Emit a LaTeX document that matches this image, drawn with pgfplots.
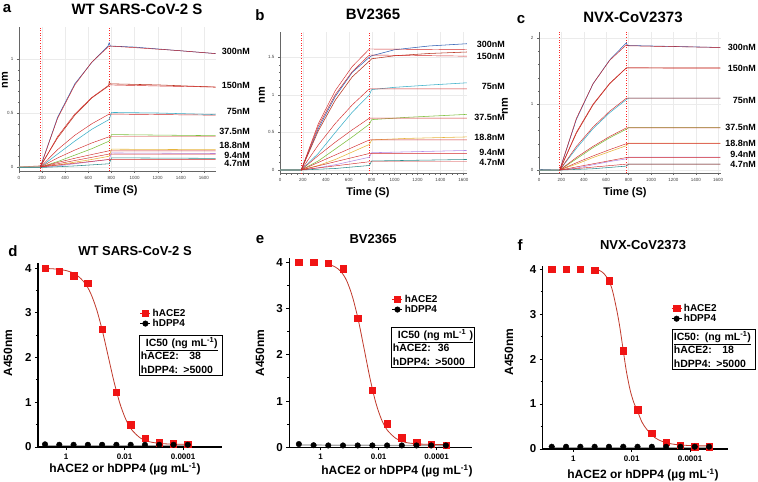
\documentclass[border=0pt]{standalone}
\usepackage{pgfplots}
\pgfplotsset{compat=1.18}
\usepackage{fontspec}
\setmainfont{Liberation Sans}
\definecolor{cblue}{HTML}{2F5FB3}
\definecolor{cdred}{HTML}{B8321E}
\definecolor{ccyan}{HTML}{3AAFC8}
\definecolor{cgreen}{HTML}{7DBE3C}
\definecolor{cyell}{HTML}{E6B43C}
\definecolor{cpurp}{HTML}{B48CE6}
\definecolor{cteal}{HTML}{2E8C8C}
\definecolor{fitred}{HTML}{D22A2A}
\definecolor{sqred}{HTML}{F01414}
\definecolor{curvered}{HTML}{C0392B}
\pgfplotsset{
 topax/.style={scale only axis, axis lines*=left, axis line style={black!60, line width=0.4pt},
   xmin=0, tick align=outside, major tick length=2pt, minor tick length=1.2pt,
   tick style={black!60, line width=0.3pt}, xtick={0,200,...,1600}, minor x tick num=3, minor y tick num=4,
   ticklabel style={font=\fontsize{4.5}{5}\selectfont, text=black!75},
   xmajorgrids, ymajorgrids, major grid style={black!8, line width=0.3pt},
   /pgf/number format/assume math mode=true, /pgf/number format/set thousands separator={},
   scaled y ticks=false, scaled x ticks=false,
   yticklabel style={/pgf/number format/fixed},
   every axis plot/.append style={line width=0.55pt}},
 fitline/.style={fitred, line width=0.45pt},
 vdash/.style={red!85, dotted, line width=0.6pt},
 botax/.style={scale only axis, axis lines*=left, axis line style={black, line width=1.3pt},
   tick style={black, line width=1pt}, tick align=outside, major tick length=3pt, minor tick length=2pt,
   ytick={0,1,2,3,4}, minor y tick num=1, ymin=0, xtick={0,2,4}, xticklabels={1,0.01,0.0001},
   yticklabel style={font=\bfseries\fontsize{11.5}{12}\selectfont},
   xticklabel style={font=\bfseries\fontsize{8}{9}\selectfont},
   /pgf/number format/assume math mode=true, clip=false,
   legend cell align=left,
   legend image code/.code={\draw[##1, mark=none, line width=0.6pt] (0pt,0pt) -- (10pt,0pt); \draw[##1, only marks] plot coordinates {(5pt,0pt)};}},
 sq/.style={only marks, mark=square*, mark size=3.2pt, color=sqred},
 dot/.style={only marks, mark=*, mark size=2.8pt, color=black},
 sig/.style={curvered, line width=0.8pt, smooth, tension=0.5},
}
\begin{document}
\begin{tikzpicture}[x=1pt,y=1pt]
\useasboundingbox (0pt,0pt) rectangle (758pt,-482pt);
% ---------------- panel a
\begin{axis}[topax, at={(19pt,-171pt)}, anchor=south west, width=197pt, height=144pt,
  xmax=1704, ymin=-0.037, ymax=1.296, ytick={0,0.5,1}]
\addplot[vdash] coordinates {(185,-0.037)(185,1.296)};
\addplot[vdash] coordinates {(780,-0.037)(780,1.296)};
% data
\addplot[cblue] coordinates {(0,-0.005)(185,0)(334,0.46)(483,0.77)(631,0.97)(770,1.12)(780,1.15)(790,1.12)(1000,1.11)(1350,1.08)(1700,1.05)};
\addplot[cdred] coordinates {(0,0)(185,0.01)(334,0.27)(483,0.48)(631,0.64)(775,0.75)(780,0.79)(790,0.77)(1200,0.76)(1700,0.74)};
\addplot[ccyan] coordinates {(0,-0.005)(185,0)(334,0.12)(483,0.24)(631,0.35)(780,0.44)(800,0.505)(1200,0.50)(1700,0.485)};
\addplot[cgreen] coordinates {(0,0)(185,0)(334,0.05)(483,0.11)(631,0.17)(780,0.24)(800,0.30)(1700,0.29)};
\addplot[cyell] coordinates {(0,0)(185,0)(334,0.02)(483,0.045)(631,0.07)(780,0.10)(800,0.165)(1700,0.16)};
\addplot[cpurp] coordinates {(0,0)(185,0)(334,0.01)(483,0.03)(631,0.05)(780,0.07)(800,0.13)(1700,0.125)};
\addplot[cteal] coordinates {(0,-0.005)(185,-0.005)(483,0.01)(780,0.03)(800,0.085)(1700,0.08)};
% fits
\addplot[fitline] coordinates {(185,0)(334,0.451)(483,0.760)(631,0.973)(780,1.12)(1000,1.105)(1350,1.08)(1700,1.05)};
\addplot[fitline] coordinates {(185,0)(334,0.282)(483,0.491)(631,0.645)(780,0.76)(1200,0.75)(1700,0.74)};
\addplot[fitline] coordinates {(185,0)(334,0.161)(483,0.294)(631,0.401)(780,0.49)(1700,0.48)};
\addplot[fitline] coordinates {(185,0)(334,0.084)(483,0.157)(631,0.223)(780,0.28)(1700,0.28)};
\addplot[fitline] coordinates {(185,0)(334,0.042)(483,0.081)(631,0.116)(780,0.15)(1700,0.15)};
\addplot[fitline] coordinates {(185,0)(780,0.12)(1700,0.12)};
\addplot[fitline] coordinates {(185,0)(780,0.07)(1700,0.07)};
\end{axis}
% ---------------- panel b
\begin{axis}[topax, at={(280pt,-173.3pt)}, anchor=south west, width=187pt, height=141.6pt,
  xmax=1632, ymin=-0.044, ymax=1.84, ytick={0,0.5,1,1.5}]
\addplot[vdash] coordinates {(185,-0.044)(185,1.84)};
\addplot[vdash] coordinates {(780,-0.044)(780,1.84)};
\addplot[cblue] coordinates {(0,0)(185,0)(334,0.55)(483,0.98)(631,1.30)(780,1.50)(800,1.52)(1000,1.60)(1300,1.65)(1630,1.68)};
\addplot[cdred] coordinates {(0,0)(185,0)(334,0.52)(483,0.93)(631,1.24)(780,1.45)(800,1.48)(1000,1.52)(1300,1.55)(1630,1.57)};
\addplot[ccyan] coordinates {(0,0)(185,0)(334,0.22)(483,0.50)(631,0.77)(780,1.00)(800,1.07)(1000,1.10)(1300,1.13)(1630,1.16)};
\addplot[cgreen] coordinates {(0,0)(185,0)(334,0.12)(483,0.28)(631,0.44)(780,0.61)(800,0.67)(1100,0.70)(1630,0.74)};
\addplot[cyell] coordinates {(0,0)(185,0)(334,0.06)(483,0.14)(631,0.24)(780,0.34)(800,0.40)(1100,0.42)(1630,0.44)};
\addplot[cpurp] coordinates {(0,0)(185,0)(334,0.03)(483,0.07)(631,0.12)(780,0.17)(800,0.23)(1630,0.26)};
\addplot[cteal] coordinates {(0,0)(185,0)(483,0.02)(780,0.06)(800,0.12)(1630,0.14)};
\addplot[fitline] coordinates {(185,0)(334,0.614)(483,1.058)(631,1.378)(780,1.61)(1630,1.60)};
\addplot[fitline] coordinates {(185,0)(334,0.583)(483,1.005)(631,1.31)(780,1.53)(1630,1.515)};
\addplot[fitline] coordinates {(185,0)(334,0.333)(483,0.620)(631,0.867)(780,1.08)(1630,1.08)};
\addplot[fitline] coordinates {(185,0)(334,0.192)(483,0.371)(631,0.535)(780,0.69)(1630,0.69)};
\addplot[fitline] coordinates {(185,0)(780,0.40)(1630,0.40)};
\addplot[fitline] coordinates {(185,0)(780,0.22)(1630,0.22)};
\addplot[fitline] coordinates {(185,0)(780,0.11)(1630,0.11)};
\end{axis}
% ---------------- panel c
\begin{axis}[topax, at={(539pt,-172.7pt)}, anchor=south west, width=182pt, height=140.4pt,
  xmax=1625, ymin=-0.04, ymax=2.09, ytick={0,1,2}]
\addplot[vdash] coordinates {(185,-0.04)(185,2.09)};
\addplot[vdash] coordinates {(780,-0.04)(780,2.09)};
\addplot[cblue] coordinates {(0,0.01)(185,0)(334,0.77)(483,1.31)(631,1.67)(780,1.93)(790,1.89)(1620,1.86)};
\addplot[cdred] coordinates {(0,0)(185,0)(334,0.56)(483,0.99)(631,1.31)(780,1.55)(1620,1.55)};
\addplot[ccyan] coordinates {(0,0)(185,0)(334,0.33)(483,0.63)(631,0.87)(780,1.07)(800,1.09)(1620,1.09)};
\addplot[cgreen] coordinates {(0,0)(185,0)(334,0.17)(483,0.34)(631,0.49)(780,0.62)(800,0.645)(1620,0.645)};
\addplot[cyell] coordinates {(0,0)(185,0)(334,0.09)(483,0.19)(631,0.28)(780,0.37)(800,0.41)(1620,0.41)};
\addplot[cpurp] coordinates {(0,0)(185,0)(334,0.03)(483,0.08)(631,0.13)(780,0.17)(800,0.195)(1620,0.195)};
\addplot[cteal] coordinates {(0,0)(185,0)(483,0.02)(780,0.06)(800,0.09)(1620,0.09)};
\addplot[fitline] coordinates {(185,0)(334,0.785)(483,1.311)(631,1.664)(780,1.90)(800,1.885)(1620,1.86)};
\addplot[fitline] coordinates {(185,0)(334,0.575)(483,1.001)(631,1.316)(780,1.55)(1620,1.545)};
\addplot[fitline] coordinates {(185,0)(334,0.359)(483,0.653)(631,0.893)(780,1.09)(1620,1.09)};
\addplot[fitline] coordinates {(185,0)(334,0.191)(483,0.360)(631,0.509)(780,0.64)(1620,0.64)};
\addplot[fitline] coordinates {(185,0)(334,0.111)(483,0.215)(631,0.310)(780,0.40)(1620,0.40)};
\addplot[fitline] coordinates {(185,0)(780,0.19)(1620,0.19)};
\addplot[fitline] coordinates {(185,0)(780,0.09)(1620,0.09)};
\end{axis}
% ---------------- panel d
\begin{axis}[botax, at={(38pt,-447pt)}, anchor=south west, width=184pt, height=183.7pt,
  xmin=-0.96, xmax=5.33, ymax=4.11,
  legend style={at={(0.554,0.70)}, anchor=west, draw=none, fill=none, inner sep=0pt,
    font=\bfseries\fontsize{10}{11}\selectfont, row sep=-2.5pt}]
\addplot[gray!70, line width=1.6pt, forget plot] coordinates {(-0.72,0.035)(4.16,0.035)};
\addplot[sig, forget plot] coordinates {(-0.68,3.993)(-0.36,3.982)(0.04,3.941)(0.34,3.859)(0.64,3.671)(0.84,3.439)(1.04,3.086)(1.24,2.602)(1.44,2.03)(1.64,1.457)(1.84,0.974)(2.04,0.621)(2.24,0.389)(2.54,0.201)(2.84,0.119)(3.24,0.078)(3.64,0.065)(4.16,0.062)};
\addplot[sq] coordinates {(-0.72,4.0)(-0.232,3.93)(0.256,3.83)(0.744,3.67)(1.232,2.64)(1.72,1.22)(2.208,0.50)(2.696,0.20)(3.184,0.10)(3.672,0.07)(4.16,0.06)};
\addlegendentry{hACE2}
\addplot[dot] coordinates {(-0.72,0.06)(-0.232,0.05)(0.256,0.05)(0.744,0.05)(1.232,0.05)(1.72,0.05)(2.208,0.05)(2.696,0.05)(3.184,0.05)(3.672,0.05)(4.16,0.05)};
\addlegendentry{hDPP4}
\end{axis}
% ---------------- panel e
\begin{axis}[botax, at={(289.3pt,-447.3pt)}, anchor=south west, width=183pt, height=189pt,
  xmin=-1.08, xmax=5.23, ymax=4.086,
  legend style={at={(0.561,0.756)}, anchor=west, draw=none, fill=none, inner sep=0pt,
    font=\bfseries\fontsize{10}{11}\selectfont, row sep=-2.5pt}]
\addplot[gray!70, line width=1.2pt, forget plot] coordinates {(-0.75,0.05)(4.32,0.035)};
\addplot[sig, forget plot] coordinates {(0.26,3.96)(0.5,3.90)(0.7,3.80)(0.9,3.60)(1.1,3.25)(1.3,2.75)(1.5,2.13)(1.7,1.50)(1.9,0.97)(2.1,0.60)(2.3,0.37)(2.6,0.19)(2.9,0.11)(3.3,0.075)(3.8,0.063)(4.32,0.06)};
\addplot[sq] coordinates {(-0.75,4.0)(-0.243,4.0)(0.264,3.98)(0.771,3.86)(1.278,2.79)(1.785,1.24)(2.292,0.51)(2.799,0.21)(3.306,0.11)(3.813,0.07)(4.32,0.05)};
\addlegendentry{hACE2}
\addplot[dot] coordinates {(-0.75,0.07)(-0.243,0.045)(0.264,0.04)(0.771,0.04)(1.278,0.04)(1.785,0.04)(2.292,0.04)(2.799,0.04)(3.306,0.04)(3.813,0.04)(4.32,0.04)};
\addlegendentry{hDPP4}
\end{axis}
% ---------------- panel f
\begin{axis}[botax, at={(542.7pt,-449pt)}, anchor=south west, width=185pt, height=183pt,
  xmin=-1.05, xmax=5.29, ymax=4.07,
  legend style={at={(0.694,0.740)}, anchor=west, draw=none, fill=none, inner sep=0pt,
    font=\bfseries\fontsize{10}{11}\selectfont, row sep=-2.5pt}]
\addplot[gray!70, line width=1.2pt, forget plot] coordinates {(-0.74,0.04)(4.65,0.04)};
\addplot[sig, forget plot] coordinates {(0.73,4.0)(0.9,3.97)(1.05,3.9)(1.22,3.74)(1.35,3.5)(1.5,3.05)(1.6,2.68)(1.71,2.19)(1.82,1.72)(1.95,1.30)(2.08,1.02)(2.20,0.84)(2.35,0.60)(2.5,0.45)(2.69,0.31)(2.9,0.21)(3.18,0.14)(3.5,0.10)(3.9,0.08)(4.3,0.07)(4.65,0.07)};
\addplot[sq] coordinates {(-0.74,4.0)(-0.25,4.0)(0.24,4.0)(0.73,3.98)(1.22,3.74)(1.71,2.19)(2.20,0.87)(2.69,0.35)(3.18,0.15)(3.67,0.09)(4.16,0.05)(4.65,0.05)};
\addlegendentry{hACE2}
\addplot[dot] coordinates {(-0.74,0.05)(-0.25,0.05)(0.24,0.05)(0.73,0.05)(1.22,0.05)(1.71,0.05)(2.20,0.05)(2.69,0.05)(3.18,0.05)(3.67,0.05)(4.16,0.05)(4.65,0.05)};
\addlegendentry{hDPP4}
\end{axis}
% ---------------- texts top
\begin{scope}[every node/.style={font=\bfseries\fontsize{9}{10}\selectfont, anchor=east, inner sep=0pt}]
\node at (250pt,-51.7pt) {300nM};
\node at (250pt,-85pt) {150nM};
\node at (250pt,-111pt) {75nM};
\node at (250pt,-131.7pt) {37.5nM};
\node at (250pt,-145.7pt) {18.8nM};
\node at (250pt,-155pt) {9.4nM};
\node at (250pt,-163.3pt) {4.7nM};
\node at (505pt,-44pt) {300nM};
\node at (505pt,-56.7pt) {150nM};
\node at (505pt,-86pt) {75nM};
\node at (505pt,-117.3pt) {37.5nM};
\node at (505pt,-137.7pt) {18.8nM};
\node at (505pt,-152.7pt) {9.4nM};
\node at (505pt,-162.7pt) {4.7nM};
\node at (756pt,-47.7pt) {300nM};
\node at (756pt,-68.3pt) {150nM};
\node at (756pt,-100pt) {75nM};
\node at (756pt,-127pt) {37.5nM};
\node at (756pt,-143.3pt) {18.8nM};
\node at (756pt,-154pt) {9.4nM};
\node at (756pt,-164.7pt) {4.7nM};
\end{scope}
\begin{scope}[every node/.style={font=\bfseries\fontsize{15}{17}\selectfont, inner sep=0pt}]
\node at (137pt,-9pt) {WT SARS-CoV-2 S};
\node at (373pt,-14pt) {BV2365};
\node at (633pt,-17pt) {NVX-CoV2373};
\node at (7pt,-9pt) {a};
\node at (260pt,-15pt) {b};
\node at (521pt,-20pt) {c};
\node at (13pt,-251pt) {d};
\node at (260pt,-240pt) {e};
\node at (520pt,-245pt) {f};
\end{scope}
\begin{scope}[every node/.style={font=\bfseries\fontsize{11}{13}\selectfont, inner sep=0pt}]
\node at (116pt,-191pt) {Time (S)};
\node at (368pt,-193pt) {Time (S)};
\node at (625pt,-193pt) {Time (S)};
\node[rotate=90] at (5pt,-80pt) {nm};
\node[rotate=90] at (262pt,-95pt) {nm};
\node[rotate=90] at (505pt,-106pt) {nm};
\end{scope}
\begin{scope}[every node/.style={font=\bfseries\fontsize{13}{15}\selectfont, inner sep=0pt}]
\node at (135pt,-251pt) {WT SARS-CoV-2 S};
\node at (373pt,-239pt) {BV2365};
\node at (643pt,-245pt) {NVX-CoV2373};
\end{scope}
\begin{scope}[every node/.style={font=\bfseries\fontsize{12}{14}\selectfont, inner sep=0pt}]
\node at (125pt,-469pt) {hACE2 or hDPP4 (µg mL\textsuperscript{-1})};
\node at (397pt,-471pt) {hACE2 or hDPP4 (µg mL\textsuperscript{-1})};
\node at (643pt,-475pt) {hACE2 or hDPP4 (µg mL\textsuperscript{-1})};
\node[rotate=90] at (8pt,-353pt) {A450nm};
\node[rotate=90] at (260pt,-353pt) {A450nm};
\node[rotate=90] at (509pt,-352pt) {A450nm};
\end{scope}
\begin{scope}[every node/.style={draw, line width=0.8pt, anchor=north west, inner xsep=1.5pt, inner ysep=2pt, text width=80pt, align=left, font=\bfseries\fontsize{10.5}{13.5}\selectfont}]
\node at (139pt,-335pt) {\hspace*{5pt}\underline{IC50 (ng mL\textsuperscript{-1})}\\hACE2:\ \ \ 38\\hDPP4: >5000};
\node at (391pt,-327pt) {\hspace*{5pt}\underline{IC50 (ng mL\textsuperscript{-1} )}\\hACE2:\ \ 36\\hDPP4: >5000};
\node at (672pt,-329pt) {\underline{IC50: (ng mL\textsuperscript{-1})}\\hACE2:\ \ \ 18\\hDPP4: >5000};
\end{scope}
\end{tikzpicture}
\end{document}
